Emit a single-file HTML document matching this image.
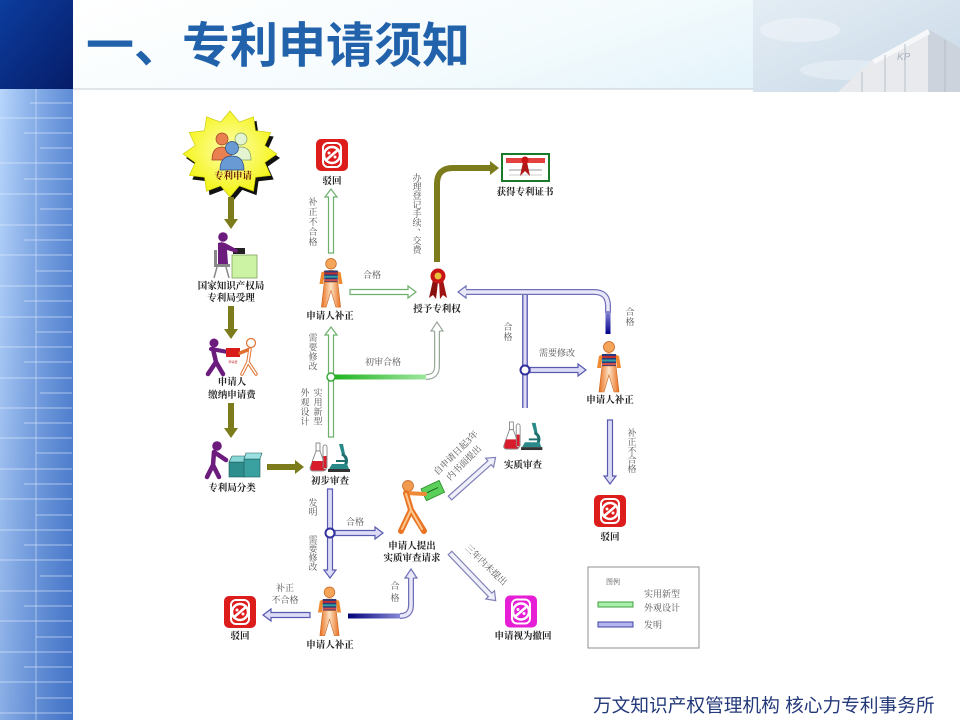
<!DOCTYPE html>
<html><head><meta charset="utf-8">
<style>
html,body{margin:0;padding:0;background:#fff;}
body{width:960px;height:720px;overflow:hidden;}
svg{display:block;}
.nl{font-family:"Liberation Serif","Noto Serif CJK SC",serif;font-size:9.5px;font-weight:bold;fill:#222;text-anchor:middle;}
.cl{font-family:"Liberation Serif","Noto Serif CJK SC",serif;font-size:9px;fill:#555;text-anchor:middle;}
.ga{fill:#fff;stroke:#6cb06c;stroke-width:1.2;}
.ba{fill:#dcdcf6;stroke:#5a5ab0;stroke-width:1.2;}
.da{fill:#f0f0fa;stroke:#8080b8;stroke-width:1.2;}
</style></head>
<body>
<svg width="960" height="720" viewBox="0 0 960 720" xmlns="http://www.w3.org/2000/svg">
<defs>
 <linearGradient id="tl" x1="0" y1="0" x2="1" y2="1"><stop offset="0" stop-color="#0c3d9e"/><stop offset="1" stop-color="#061c68"/></linearGradient>
 <linearGradient id="sb" x1="0" y1="0" x2="1" y2="0"><stop offset="0" stop-color="#b8d6fc"/><stop offset="1" stop-color="#7aa6e6"/></linearGradient>
 <linearGradient id="sb2" x1="0" y1="0" x2="1" y2="1"><stop offset="0" stop-color="#1e50b0" stop-opacity="0"/><stop offset="1" stop-color="#1e50b0" stop-opacity="0.6"/></linearGradient>
 <linearGradient id="hd" x1="0" y1="0" x2="1" y2="0.3"><stop offset="0" stop-color="#ffffff"/><stop offset="0.6" stop-color="#f4fbfd"/><stop offset="1" stop-color="#e2f3fa"/></linearGradient>
 <linearGradient id="sky" x1="0" y1="0" x2="1" y2="1"><stop offset="0" stop-color="#e4edf4"/><stop offset="1" stop-color="#c9d9e8"/></linearGradient>
 <linearGradient id="og" x1="0" y1="0" x2="1" y2="0"><stop offset="0" stop-color="#e86e1e"/><stop offset="0.5" stop-color="#fde2c4"/><stop offset="1" stop-color="#e86e1e"/></linearGradient>
 <linearGradient id="grn" x1="0" y1="0" x2="1" y2="0"><stop offset="0" stop-color="#22b422"/><stop offset="1" stop-color="#a0e6a0"/></linearGradient>
 <linearGradient id="nav" x1="0" y1="0" x2="1" y2="0"><stop offset="0" stop-color="#00007a"/><stop offset="1" stop-color="#8a8ad8"/></linearGradient>
 <linearGradient id="navv" x1="0" y1="0" x2="0" y2="1"><stop offset="0" stop-color="#8a8ad8"/><stop offset="1" stop-color="#00008a"/></linearGradient>
 <radialGradient id="ys" cx="0.5" cy="0.45" r="0.6"><stop offset="0" stop-color="#ffffb0"/><stop offset="1" stop-color="#f2f200"/></radialGradient>
 <symbol id="pB" viewBox="0 0 26 52">
  <circle cx="13" cy="6" r="5.5" fill="#f5a55a" stroke="#c8641e" stroke-width=".8"/>
  <path d="M3 15 Q13 10 23 15 L25 27 L21 27 L20 19 L6 19 L5 27 L1 27 Z" fill="#f08a30"/>
  <rect x="6" y="13" width="14" height="12" fill="#2a3a7a"/>
  <rect x="6" y="15" width="14" height="2" fill="#c03030"/>
  <rect x="6" y="18.5" width="14" height="2" fill="#30a0a0"/>
  <rect x="6" y="22" width="14" height="2" fill="#d05050"/>
  <path d="M6 25 H20 L23 51 H18 L13 34 L8 51 H3 Z" fill="url(#og)" stroke="#c8641e" stroke-width=".6"/>
 </symbol>
 <symbol id="stop" viewBox="0 0 32 32">
  <rect x="0" y="0" width="32" height="32" rx="5" fill="currentColor"/>
  <rect x="7" y="4" width="18" height="24" rx="5" fill="none" stroke="#fff" stroke-width="2"/>
  <circle cx="16" cy="16" r="8" fill="none" stroke="#fff" stroke-width="2.5"/>
  <circle cx="13" cy="14" r="1.5" fill="#fff"/><circle cx="19" cy="18" r="1.5" fill="#fff"/>
  <line x1="9" y1="22" x2="23" y2="10" stroke="#fff" stroke-width="2.5"/>
 </symbol>
 <symbol id="lab" viewBox="0 0 42 31">
  <rect x="7" y="1" width="4" height="8" fill="#fff" stroke="#777" stroke-width=".8"/>
  <path d="M7 9 L1 26 Q1 29 4 29 L14 29 Q17 29 17 26 L11 9 Z" fill="#fff" stroke="#777" stroke-width=".8"/>
  <path d="M3.5 19 L14.5 19 L16.5 26 Q16.5 28.5 14 28.5 L4 28.5 Q1.5 28.5 1.5 26 Z" fill="#d81c2c"/>
  <rect x="14" y="3" width="4" height="24" rx="2" fill="#fff" stroke="#777" stroke-width=".8"/>
  <rect x="14.5" y="14" width="3" height="12" fill="#d81c2c"/>
  <path d="M30 2 L34 2 L36 12 L33 13 Z" fill="#2a8a8a"/>
  <path d="M33 12 Q40 16 36 24" fill="none" stroke="#1e6e6e" stroke-width="3"/>
  <rect x="27" y="18" width="10" height="2" fill="#1e6e6e"/>
  <path d="M20 27 L40 27 L38 22 L23 22 Z" fill="#2a8a8a"/>
  <rect x="19" y="27" width="22" height="3" fill="#333"/>
 </symbol>
</defs>

<!-- header / frame -->
<rect x="73" y="0" width="887" height="89" fill="url(#hd)"/>
<line x1="73" y1="89" x2="960" y2="89" stroke="#c6ccd2" stroke-width="1"/>
<rect x="0" y="0" width="73" height="89" fill="url(#tl)"/>
<rect x="0" y="89" width="73" height="631" fill="url(#sb)"/>
<rect x="0" y="89" width="73" height="631" fill="url(#sb2)"/>
<line x1="36" y1="89" x2="36" y2="720" stroke="#d2e4fc" stroke-width="1" opacity=".6"/>
<g stroke="#e2eeff" stroke-width="1" opacity=".6">
 <line x1="30" y1="103" x2="72" y2="103"/><line x1="0" y1="118" x2="72" y2="118"/>
 <line x1="24" y1="133" x2="72" y2="133"/><line x1="40" y1="148" x2="72" y2="148"/>
 <line x1="0" y1="163" x2="72" y2="163"/><line x1="24" y1="179" x2="72" y2="179"/>
 <line x1="0" y1="194" x2="72" y2="194"/><line x1="40" y1="209" x2="72" y2="209"/>
 <line x1="0" y1="225" x2="72" y2="225"/><line x1="24" y1="240" x2="72" y2="240"/>
 <line x1="0" y1="255" x2="72" y2="255"/><line x1="36" y1="271" x2="72" y2="271"/>
 <line x1="0" y1="286" x2="72" y2="286"/><line x1="24" y1="301" x2="72" y2="301"/>
 <line x1="0" y1="317" x2="72" y2="317"/><line x1="36" y1="332" x2="72" y2="332"/>
 <line x1="0" y1="347" x2="72" y2="347"/><line x1="24" y1="362" x2="72" y2="362"/>
 <line x1="0" y1="378" x2="72" y2="378"/><line x1="40" y1="393" x2="72" y2="393"/>
 <line x1="0" y1="408" x2="72" y2="408"/><line x1="24" y1="423" x2="72" y2="423"/>
 <line x1="0" y1="438" x2="72" y2="438"/><line x1="36" y1="453" x2="72" y2="453"/>
 <line x1="0" y1="469" x2="72" y2="469"/><line x1="24" y1="484" x2="72" y2="484"/>
 <line x1="0" y1="499" x2="72" y2="499"/><line x1="36" y1="515" x2="72" y2="515"/>
 <line x1="0" y1="530" x2="72" y2="530"/><line x1="24" y1="545" x2="72" y2="545"/>
 <line x1="0" y1="560" x2="72" y2="560"/><line x1="40" y1="576" x2="72" y2="576"/>
 <line x1="0" y1="591" x2="72" y2="591"/><line x1="24" y1="606" x2="72" y2="606"/>
 <line x1="0" y1="621" x2="72" y2="621"/><line x1="36" y1="637" x2="72" y2="637"/>
 <line x1="0" y1="652" x2="72" y2="652"/><line x1="24" y1="667" x2="72" y2="667"/>
 <line x1="0" y1="682" x2="72" y2="682"/><line x1="36" y1="698" x2="72" y2="698"/>
 <line x1="0" y1="713" x2="72" y2="713"/>
</g>
<!-- photo -->
<rect x="753" y="0" width="207" height="92" fill="url(#sky)"/>
<ellipse cx="800" cy="30" rx="40" ry="12" fill="#f0f4f8" opacity=".6"/>
<ellipse cx="850" cy="70" rx="50" ry="10" fill="#eef3f7" opacity=".5"/>
<polygon points="838,92 872,60 928,29 928,92" fill="#e8eaee"/>
<polygon points="928,29 960,48 960,92 928,92" fill="#cdd3dc"/>
<polygon points="872,60 928,29 930,34 875,64" fill="#f6f7f9"/>
<g stroke="#b8bec8" stroke-width="1">
 <line x1="885" y1="55" x2="885" y2="92"/><line x1="905" y1="44" x2="905" y2="92"/>
 <line x1="862" y1="72" x2="862" y2="92"/><line x1="945" y1="40" x2="945" y2="92"/>
</g>
<text x="897" y="60" font-family="Liberation Sans,sans-serif" font-size="10" fill="#a8b0bc" font-style="italic">KP</text>

<!-- title -->
<text x="86" y="62" font-family="'Liberation Sans','Noto Sans CJK SC',sans-serif" font-size="48" font-weight="bold" fill="#2162ab">一、专利申请须知</text>

<!-- footer -->
<text x="593" y="712" font-family="'Liberation Sans','Noto Sans CJK SC',sans-serif" font-size="18.7" fill="#23397a">万文知识产权管理机构 核心力专利事务所</text>

<!-- ============ DIAGRAM ============ -->
<polygon transform="translate(3,4)" fill="#111" points="277,154 264.8,162.5 270.7,175.5 255.5,177.3 253.5,191.2 239.3,185.9 230,197 220.7,185.9 206.5,191.2 204.5,177.3 189.3,175.5 195.2,162.5 183,154 195.2,145.5 189.3,132.5 204.5,130.7 206.5,116.8 220.7,122.1 230,111 239.3,122.1 253.5,116.8 255.5,130.7 270.7,132.5 264.8,145.5"/>
<polygon fill="url(#ys)" stroke="#c8c800" stroke-width=".6" points="277,154 264.8,162.5 270.7,175.5 255.5,177.3 253.5,191.2 239.3,185.9 230,197 220.7,185.9 206.5,191.2 204.5,177.3 189.3,175.5 195.2,162.5 183,154 195.2,145.5 189.3,132.5 204.5,130.7 206.5,116.8 220.7,122.1 230,111 239.3,122.1 253.5,116.8 255.5,130.7 270.7,132.5 264.8,145.5"/>
<circle cx="222" cy="139" r="6" fill="#e88050" stroke="#a04020" stroke-width=".7"/>
<path d="M212 160 Q212 147 222 147 Q232 147 232 160 Z" fill="#e88050" stroke="#a04020" stroke-width=".7"/>
<circle cx="241" cy="139" r="6" fill="#e4f4d0" stroke="#80a060" stroke-width=".7"/>
<path d="M231 160 Q231 147 241 147 Q251 147 251 160 Z" fill="#e4f4d0" stroke="#80a060" stroke-width=".7"/>
<circle cx="232" cy="148" r="6.5" fill="#6a9ad4" stroke="#2a4a80" stroke-width=".7"/>
<path d="M220 170 Q220 156 232 156 Q244 156 244 170 Z" fill="#6a9ad4" stroke="#2a4a80" stroke-width=".7"/>
<text x="233" y="179" class="nl" style="fill:#6a1a10">专利申请</text>

<!-- olive arrows -->
<g fill="#7c7c1c">
 <rect x="228" y="197" width="6" height="22"/><polygon points="224,219 238,219 231,229"/>
 <rect x="228" y="306" width="6" height="23"/><polygon points="224,329 238,329 231,339"/>
 <rect x="228" y="403" width="6" height="25"/><polygon points="224,428 238,428 231,438"/>
 <rect x="267" y="464" width="28" height="6"/><polygon points="295,460 295,474 304,467"/>
</g>
<path d="M437 262 V184 Q437 168 453 168 H490" fill="none" stroke="#7c7c1c" stroke-width="6"/>
<polygon points="490,161 499,168 490,175" fill="#7c7c1c"/>

<!-- desk person -->
<rect x="232" y="255" width="25" height="23" fill="#ccf2a4" stroke="#80a060" stroke-width=".8"/>
<rect x="233" y="248" width="12" height="6" fill="#222"/>
<circle cx="223" cy="237" r="4.8" fill="#6c1c7c"/>
<path d="M218 243 Q222 241 227 244 L238 250 L237 253 L227 250 L228 264 L218 264 Z" fill="#6c1c7c"/>
<rect x="214" y="264" width="16" height="3" fill="#888"/>
<rect x="214" y="250" width="3" height="16" fill="#888"/>
<line x1="217" y1="267" x2="214" y2="278" stroke="#888" stroke-width="1.5"/>
<line x1="226" y1="267" x2="229" y2="278" stroke="#888" stroke-width="1.5"/>
<text x="231" y="289" class="nl">国家知识产权局</text>
<text x="231" y="301" class="nl">专利局受理</text>

<!-- two persons -->
<circle cx="214" cy="343" r="4.5" fill="#6c1c7c"/>
<path d="M211 349 L228 352" stroke="#6c1c7c" stroke-width="4" stroke-linecap="round"/>
<path d="M213 349 L216 362 L208 374 M216 362 L223 374" fill="none" stroke="#6c1c7c" stroke-width="4.5" stroke-linecap="round" stroke-linejoin="round"/>
<rect x="226" y="348" width="14" height="9" fill="#d81c1c"/>
<text x="233" y="363" font-size="3" fill="#c02020" text-anchor="middle" font-family="'Noto Sans CJK SC',sans-serif">申请费</text>
<circle cx="251" cy="343" r="4.5" fill="#fff" stroke="#e07030" stroke-width="1.2"/>
<path d="M250 349 L240 353 M250 349 L248 362 L242 374 M248 362 L256 374" fill="none" stroke="#e07030" stroke-width="3.5" stroke-linecap="round" stroke-linejoin="round"/>
<path d="M250 349 L248 362 L242 374 M248 362 L256 374" fill="none" stroke="#fff" stroke-width="1.5" stroke-linecap="round" stroke-linejoin="round"/>
<text x="232" y="385" class="nl">申请人</text>
<text x="232" y="398" class="nl">缴纳申请费</text>

<!-- boxes person -->
<circle cx="217" cy="446" r="4.8" fill="#6c1c7c"/>
<path d="M214 452 L226 460 M214 452 L213 465 L207 477 M213 465 L219 477" fill="none" stroke="#6c1c7c" stroke-width="4.5" stroke-linecap="round" stroke-linejoin="round"/>
<rect x="229" y="462" width="16" height="15" fill="#2e8e8e" stroke="#1a5a5a" stroke-width=".6"/>
<polygon points="229,462 245,462 248,456 232,456" fill="#8ad6d6" stroke="#1a5a5a" stroke-width=".6"/>
<rect x="244" y="459" width="16" height="18" fill="#3aa0a0" stroke="#1a5a5a" stroke-width=".6"/>
<polygon points="244,459 260,459 262,453 246,453" fill="#9ae0e0" stroke="#1a5a5a" stroke-width=".6"/>
<text x="232" y="491" class="nl">专利局分类</text>

<use href="#lab" x="309" y="442" width="42" height="31"/>
<text x="330" y="484" class="nl">初步审查</text>

<!-- green arrows -->
<path class="ga" transform="translate(331,437) rotate(-90)" d="M0 -2.5 H102 V-6 L110 0 L102 6 V2.5 H0 Z"/>
<path class="ga" transform="translate(331,253) rotate(-90)" d="M0 -2.5 H56 V-6 L64 0 L56 6 V2.5 H0 Z"/>
<path class="ga" transform="translate(350,292)" d="M0 -2.5 H58 V-6 L66 0 L58 6 V2.5 H0 Z"/>
<rect x="335" y="374.5" width="92" height="5" fill="url(#grn)"/>
<path d="M426 377 Q437 377 437 366 V331" fill="none" stroke="#9aa89a" stroke-width="6"/>
<path d="M426 377 Q437 377 437 366 V331" fill="none" stroke="#fff" stroke-width="3.5"/>
<path d="M434.5 331 H431 L437 322 L443 331 H439.5" fill="#fff" stroke="#9aa89a" stroke-width="1.2"/>
<circle cx="331" cy="377" r="4" fill="#fff" stroke="#3aaa3a" stroke-width="1.5"/>

<!-- blue routes -->
<path d="M525 295 V408" fill="none" stroke="#6a6ab8" stroke-width="6"/>
<path d="M525 295 V408" fill="none" stroke="#dcdcf6" stroke-width="3"/>
<path d="M466 292 H594 Q608 292 608 306 V313" fill="none" stroke="#7070b8" stroke-width="6"/>
<path d="M466 292 H594 Q608 292 608 306 V313" fill="none" stroke="#e8e8f8" stroke-width="3.5"/>
<path d="M466 288.8 V286 L458 292 L466 298 V295.2" fill="#e8e8f8" stroke="#7070b8" stroke-width="1.2"/>
<rect x="605.5" y="311" width="5" height="23" fill="url(#navv)"/>
<path class="ba" transform="translate(530,370)" d="M0 -2.5 H48 V-6 L56 0 L48 6 V2.5 H0 Z"/>
<circle cx="525" cy="370" r="4.5" fill="#fff" stroke="#3030a0" stroke-width="2"/>
<path class="ba" transform="translate(610,420) rotate(90)" d="M0 -2.5 H56 V-6 L64 0 L56 6 V2.5 H0 Z"/>
<path class="ba" transform="translate(330,489) rotate(90)" d="M0 -2.5 H81 V-6 L89 0 L81 6 V2.5 H0 Z"/>
<path class="ba" transform="translate(335,533)" d="M0 -2.5 H40 V-6 L48 0 L40 6 V2.5 H0 Z"/>
<circle cx="330" cy="533" r="4.5" fill="#fff" stroke="#3030a0" stroke-width="2"/>
<path class="ba" transform="translate(310,615) rotate(180)" d="M0 -2.5 H39 V-6 L47 0 L39 6 V2.5 H0 Z"/>
<rect x="348" y="613.5" width="53" height="5" fill="url(#nav)"/>
<path d="M400 616 Q411 616 411 605 V578" fill="none" stroke="#7070b8" stroke-width="6"/>
<path d="M400 616 Q411 616 411 605 V578" fill="none" stroke="#e8e8f8" stroke-width="3.5"/>
<path d="M408.5 578 H405 L411 569 L417 578 H413.5" fill="#e8e8f8" stroke="#7070b8" stroke-width="1.2"/>
<path class="da" transform="translate(450,498) rotate(-41.7)" d="M0 -2.5 H53 V-6 L61 0 L53 6 V2.5 H0 Z"/>
<path class="da" transform="translate(450,553) rotate(46.2)" d="M0 -2.5 H58 V-6 L66 0 L58 6 V2.5 H0 Z"/>

<!-- stop icons -->
<use href="#stop" x="316" y="139" width="32" height="32" style="color:#dd1c1c"/>
<text x="332" y="184" class="nl">驳回</text>
<use href="#stop" x="594" y="495" width="32" height="32" style="color:#dd1c1c"/>
<text x="610" y="540" class="nl">驳回</text>
<use href="#stop" x="224" y="596" width="32" height="32" style="color:#dd1c1c"/>
<text x="240" y="639" class="nl">驳回</text>
<use href="#stop" x="505" y="595" width="32" height="33" style="color:#e61ed6"/>
<text x="523" y="639" class="nl">申请视为撤回</text>

<!-- persons -->
<use href="#pB" x="318" y="258" width="26" height="50"/>
<text x="330" y="319" class="nl">申请人补正</text>
<use href="#pB" x="596" y="341" width="26" height="52"/>
<text x="610" y="403" class="nl">申请人补正</text>
<use href="#pB" x="317" y="585" width="25" height="53"/>
<text x="330" y="648" class="nl">申请人补正</text>

<!-- ribbon -->
<polygon points="433,280 429,298 433,295 436,299 438,282" fill="#8a1010"/>
<polygon points="439,282 440,299 443,295 447,298 443,280" fill="#a01414"/>
<circle cx="438" cy="276" r="7.5" fill="#c81414"/>
<circle cx="438" cy="276" r="3.5" fill="#e8c040"/>
<text x="437" y="312" class="nl">授予专利权</text>

<!-- certificate -->
<rect x="502" y="154" width="47" height="27" fill="#fff" stroke="#1a7a2a" stroke-width="2"/>
<rect x="506" y="158" width="39" height="5" fill="#e44040"/>
<line x1="509" y1="170" x2="542" y2="170" stroke="#bbb" stroke-width="1.5"/>
<line x1="509" y1="175" x2="542" y2="175" stroke="#ccc" stroke-width="1"/>
<polygon points="523,162 520,176 525,171 530,176 527,162" fill="#b01818"/>
<circle cx="525" cy="160" r="3.5" fill="#c81414"/>
<text x="525" y="195" class="nl">获得专利证书</text>

<use href="#lab" x="502" y="421" width="42" height="30"/>
<text x="523" y="468" class="nl">实质审查</text>

<!-- walking person with paper -->
<g transform="rotate(-25 433 491)"><rect x="423" y="484" width="20" height="13" fill="#5ad05a" stroke="#2a8a2a" stroke-width=".8"/><line x1="427" y1="490" x2="439" y2="490" stroke="#1a6a1a" stroke-width="1"/></g>
<circle cx="408" cy="486" r="5.5" fill="#f29a50" stroke="#c0601e" stroke-width=".7"/>
<path d="M406 493 L425 494" stroke="#ee8a36" stroke-width="4" stroke-linecap="round"/>
<path d="M406 493 L411 510 L401 531 M411 510 L424 531" fill="none" stroke="#e87424" stroke-width="6" stroke-linecap="round" stroke-linejoin="round"/>
<path d="M406 494 L411 510 L402 529 M411 510 L422 529" fill="none" stroke="#fcc890" stroke-width="2" stroke-linecap="round" stroke-linejoin="round"/>
<text x="412" y="549" class="nl">申请人提出</text>
<text x="412" y="561" class="nl">实质审查请求</text>

<!-- connector labels -->
<text x="372" y="278" class="cl">合格</text>
<text x="383" y="365" class="cl">初审合格</text>
<text x="557" y="356" class="cl">需要修改</text>
<text x="355" y="525" class="cl">合格</text>
<text x="285" y="591" class="cl">补正</text>
<text x="285" y="603" class="cl">不合格</text>
<g class="cl">
 <text x="313" y="205">补</text><text x="313" y="215">正</text><text x="313" y="225">不</text><text x="313" y="235">合</text><text x="313" y="245">格</text>
 <text x="417" y="181">办</text><text x="417" y="190">理</text><text x="417" y="199">登</text><text x="417" y="208">记</text><text x="417" y="217">手</text><text x="417" y="226">续</text><text x="422" y="230">、</text><text x="417" y="244">交</text><text x="417" y="253">费</text>
 <text x="313" y="341">需</text><text x="313" y="350.5">要</text><text x="313" y="360">修</text><text x="313" y="369.5">改</text>
 <text x="305" y="396">外</text><text x="305" y="405.5">观</text><text x="305" y="415">设</text><text x="305" y="424.5">计</text>
 <text x="318" y="396">实</text><text x="318" y="405.5">用</text><text x="318" y="415">新</text><text x="318" y="424.5">型</text>
 <text x="508" y="330">合</text><text x="508" y="340">格</text>
 <text x="630" y="315">合</text><text x="630" y="325">格</text>
 <text x="632" y="436">补</text><text x="632" y="445">正</text><text x="632" y="454">不</text><text x="632" y="463">合</text><text x="632" y="472">格</text>
 <text x="313" y="506">发</text><text x="313" y="515">明</text>
 <text x="313" y="543">需</text><text x="313" y="552">要</text><text x="313" y="561">修</text><text x="313" y="570">改</text>
 <text x="395" y="589">合</text><text x="395" y="601">格</text>
</g>
<text class="cl" transform="translate(458,455) rotate(-45)">自申请日起3年</text>
<text class="cl" transform="translate(466,465) rotate(-45)">内书面提出</text>
<text class="cl" transform="translate(484,567) rotate(44)">三年内未提出</text>

<!-- legend -->
<rect x="588" y="567" width="111" height="81" fill="#fff" stroke="#909090" stroke-width="1"/>
<text x="613" y="584" font-family="'Liberation Serif','Noto Serif CJK SC',serif" font-size="7" fill="#555" text-anchor="middle">图例</text>
<rect x="598" y="602" width="35" height="5" fill="#aaf0aa" stroke="#40a040" stroke-width="1"/>
<rect x="598" y="622" width="35" height="5" fill="#b4b4f0" stroke="#4040a0" stroke-width="1"/>
<text x="644" y="597" class="cl" style="text-anchor:start">实用新型</text>
<text x="644" y="611" class="cl" style="text-anchor:start">外观设计</text>
<text x="644" y="628" class="cl" style="text-anchor:start">发明</text>
</svg>
</body></html>
